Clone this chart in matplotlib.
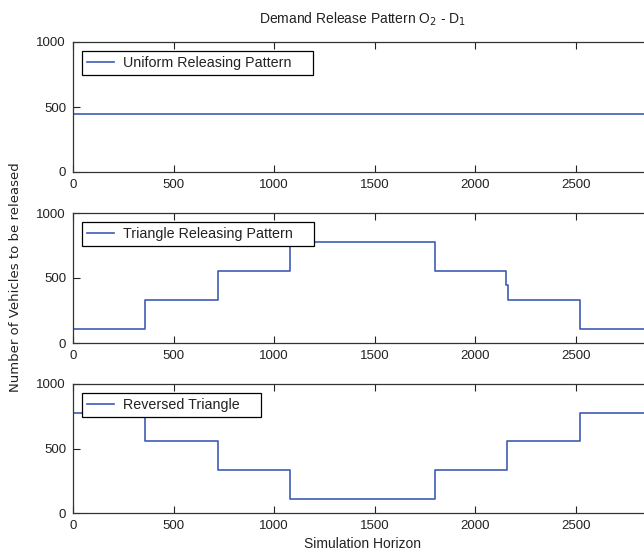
import matplotlib
matplotlib.use("Agg")
import matplotlib.pyplot as plt

# ---- data ----
uniform_t = [0, 0, 2880]
uniform_v = [0, 444.4, 444.4]

triangle_t = [0, 0, 360, 720, 1080, 1800, 2155, 2165, 2520, 2880]
triangle_v = [0, 111.1, 333.3, 555.6, 777.8, 555.6, 444.4, 333.3, 111.1, 111.1]

reversed_t = [0, 360, 720, 1080, 1800, 2160, 2520, 2880]
reversed_v = [777.8, 555.6, 333.3, 111.1, 333.3, 555.6, 777.8, 777.8]

labels = ["Uniform Releasing Pattern", "Triangle Releasing Pattern", "Reversed Triangle"]
xticks = [0, 500, 1000, 1500, 2000, 2500, 3000]
yticks = [0, 500, 1000]

plt.rcParams['font.family'] = ['Liberation Sans', 'DejaVu Sans']
W, H = 644, 557
fig = plt.figure(figsize=(W / 100, H / 100), dpi=100)

line_color = '#3f5bb5'
spine_color = '#333333'
text_color = '#222222'

def px_axes(top, bottom, left=73, right=652):
    return [left / W, 1 - bottom / H, (right - left) / W, (bottom - top) / H]

boxes = [(42, 172), (213, 343), (384, 513)]
series = [(uniform_t, uniform_v), (triangle_t, triangle_v), (reversed_t, reversed_v)]

axes = []
for (top, bot), (t, v), lab in zip(boxes, series, labels):
    ax = fig.add_axes(px_axes(top, bot))
    ax.plot(t, v, drawstyle='steps-post', color=line_color, lw=1.2, label=lab + '    ')
    ax.set_xticks(xticks)
    ax.set_yticks(yticks)
    ax.set_xlim(0, 2880)
    ax.set_ylim(0, 1000)
    ax.tick_params(direction='in', top=True, right=True, length=5, width=0.8,
                   labelsize=9.5, colors=text_color, pad=5)
    for s in ax.spines.values():
        s.set_color(spine_color)
        s.set_linewidth(0.9)
    leg = ax.legend(loc='upper left', fancybox=False, framealpha=1, edgecolor='black',
                    fontsize=10.3, handlelength=1.9, borderpad=0.35, borderaxespad=0.6,
                    handletextpad=0.65)
    leg.get_frame().set_linewidth(0.9)
    for txt in leg.get_texts():
        txt.set_color(text_color)
    axes.append(ax)

axes[0].set_title(r'Demand Release Pattern O$_2$ - D$_1$', fontsize=10, pad=13,
                  color=text_color)
axes[2].set_xlabel('Simulation Horizon', fontsize=10, labelpad=4, color=text_color)
fig.text(16 / W, 1 - 277 / H, 'Number of Vehicles to be released', rotation=90,
         ha='center', va='center', fontsize=9.5, family='DejaVu Sans', color=text_color)

fig.savefig('out.png', dpi=100, facecolor='white')
